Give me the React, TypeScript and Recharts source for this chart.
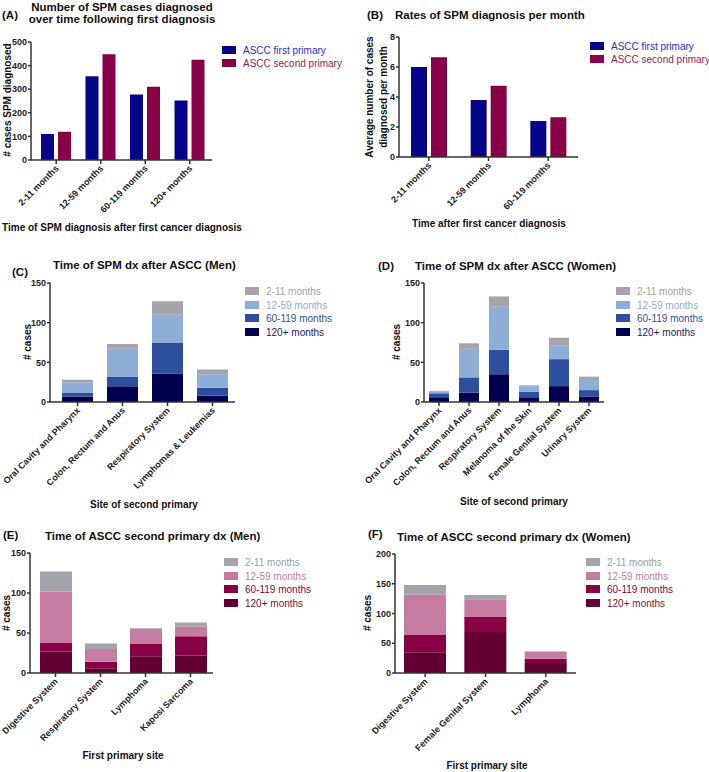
import React from "react"
import { BarChart, Bar, XAxis, YAxis } from "recharts"

// ---- data ----
const TIME_A = ["2-11 months", "12-59 months", "60-119 months", "120+ months"]
const A_FIRST = [110, 355, 278, 252]
const A_SECOND = [120, 448, 310, 425]

const TIME_B = ["2-11 months", "12-59 months", "60-119 months"]
const B_FIRST = [6.0, 3.8, 2.4]
const B_SECOND = [6.65, 4.75, 2.65]

const C_SITES = ["Oral Cavity and Pharynx", "Colon, Rectum and Anus", "Respiratory System", "Lymphomas & Leukemias"]
const C_120 = [7, 20, 36, 8]
const C_60 = [5, 12, 39, 10]
const C_12 = [13, 35, 35, 17]
const C_2 = [3, 6, 17, 6]

const D_SITES = ["Oral Cavity and Pharynx", "Colon, Rectum and Anus", "Respiratory System", "Melanoma of the Skin", "Female Genital System", "Urinary System"]
const D_120 = [6, 12, 35, 6, 20, 7]
const D_60 = [5, 19, 31, 7, 34, 8]
const D_12 = [2, 36, 54, 7, 17, 14]
const D_2 = [1, 7, 13, 1, 10, 3]

const E_SITES = ["Digestive System", "Respiratory System", "Lymphoma", "Kaposi Sarcoma"]
const E_120 = [27, 6, 21, 22]
const E_60 = [11, 8, 16, 24]
const E_12 = [64, 16, 18, 12]
const E_2 = [25, 7, 1, 5]

const F_SITES = ["Digestive System", "Female Genital System", "Lymphoma"]
const F_120 = [35, 69, 17]
const F_60 = [29, 25, 7]
const F_12 = [68, 30, 12]
const F_2 = [16, 7, 0]

const STACK_LABELS = ["2-11 months", "12-59 months", "60-119 months", "120+ months"]
const TICKS_150 = [0, 50, 100, 150]

// ---- colours ----
const BLUE = "#05058a"
const MAROON = "#880045"
const GRAY = "#a4a4aa"
const BLUES = { m120: "#00004f", m60: "#2e4f9e", m12: "#8eaed8", m2: GRAY }
const REDS = { m120: "#650032", m60: "#880045", m12: "#c67ca0", m2: GRAY }
const BLUE_TEXT = ["#a0a0a4", "#8eaed8", "#2e4f9e", "#1a1a66"]
const RED_TEXT = ["#a0a0a4", "#c67ca0", "#880045", "#7a1040"]

const FONT = "'Liberation Sans', Arial, sans-serif"
const AXIS = "#333"

const grouped = (cats: string[], a: number[], b: number[]) =>
    cats.map((name, i) => ({ name, first: a[i], second: b[i] }))

const stacked = (cats: string[], s120: number[], s60: number[], s12: number[], s2: number[]) =>
    cats.map((name, i) => ({ name, m120: s120[i], m60: s60[i], m12: s12[i], m2: s2[i] }))

const RotTick = (props: any) => {
    const { x, y, payload } = props
    return (
        <g transform={`translate(${x + 3},${y + 3})`}>
            <text x={0} y={0} textAnchor="end" transform="rotate(-45)" fontSize={9} fontWeight={700} fill="#222">
                {payload.value}
            </text>
        </g>
    )
}

const Txt = ({ x, y, children, size = 10, bold = false, color = "#111", center = false }: any) => (
    <div style={{
        position: "absolute", left: x, top: y, transform: center ? "translate(-50%,-50%)" : "translate(0,-50%)",
        fontSize: size, fontWeight: bold ? 700 : 400, color, whiteSpace: "nowrap", lineHeight: 1.1
    }}>{children}</div>
)

const VTxt = ({ x, y, children, size = 10 }: any) => (
    <div style={{
        position: "absolute", left: x, top: y, transform: "translate(-50%,-50%) rotate(-90deg)",
        fontSize: size, fontWeight: 700, color: "#111", whiteSpace: "nowrap", textAlign: "center", lineHeight: "14px"
    }}>{children}</div>
)

const Legend = ({ x, y, step, items }: { x: number, y: number, step: number, items: { label: string, color: string, text: string }[] }) => (
    <>
        {items.map((it, i) => (
            <React.Fragment key={it.label}>
                <div style={{ position: "absolute", left: x, top: y + i * step - 4, width: 14, height: 8, background: it.color }} />
                <Txt x={x + 21} y={y + i * step} color={it.text}>{it.label}</Txt>
            </React.Fragment>
        ))}
    </>
)

const PAD_L = 100
const PAD_B = 100

function Panel({ x0, x1, y0, y1, data, max, ticks, padL = 0, children }: any) {
    const w = x1 - x0
    const h = y1 - y0
    return (
        <div style={{ position: "absolute", left: x0 - PAD_L, top: y0 - 10 }}>
            <BarChart width={w + PAD_L + 10} height={h + 10 + PAD_B} data={data}
                margin={{ top: 10, right: 10, left: 0, bottom: 0 }} barCategoryGap="10%">
                <XAxis dataKey="name" height={PAD_B} interval={0} tick={<RotTick />} padding={{ left: padL, right: 0 }}
                    axisLine={{ stroke: AXIS, strokeWidth: 1.5 }} tickLine={{ stroke: AXIS, strokeWidth: 1.5 }} tickSize={4} />
                <YAxis width={PAD_L} domain={[0, max]} ticks={ticks} interval={0} allowDataOverflow
                    axisLine={{ stroke: AXIS, strokeWidth: 1.5 }} tickLine={{ stroke: AXIS, strokeWidth: 1.5 }}
                    tickSize={3} tickMargin={1} tick={{ fontSize: 9, fontWeight: 700, fill: "#222" }} />
                {children}
            </BarChart>
        </div>
    )
}

const stackBars = (pal: any, size: number) => ["m120", "m60", "m12", "m2"].map(k => (
    <Bar key={k} dataKey={k} stackId="s" fill={pal[k]} barSize={size} isAnimationActive={false} />
))

const blueLegend = STACK_LABELS.map((label, i) => ({ label, color: [BLUES.m2, BLUES.m12, BLUES.m60, BLUES.m120][i], text: BLUE_TEXT[i] }))
const redLegend = STACK_LABELS.map((label, i) => ({ label, color: [REDS.m2, REDS.m12, REDS.m60, REDS.m120][i], text: RED_TEXT[i] }))
const pairLegend = [
    { label: "ASCC first primary", color: BLUE, text: "#2b2bd8" },
    { label: "ASCC second primary", color: MAROON, text: "#9a1a52" },
]

export default function App() {
    return (
        <div style={{ position: "absolute", left: 0, top: 0, width: 709, height: 772, background: "#fff", fontFamily: FONT, overflow: "hidden" }}>
            {/* (A) */}
            <Txt x={2} y={15} size={11.5} bold>(A)</Txt>
            <Txt x={122} y={7} size={11.5} bold center>Number of SPM cases diagnosed</Txt>
            <Txt x={122} y={19} size={11.5} bold center>over time following first diagnosis</Txt>
            <Panel x0={31} x1={212} y0={42} y1={160} data={grouped(TIME_A, A_FIRST, A_SECOND)} max={500} ticks={[0, 100, 200, 300, 400, 500]} padL={3}>
                <Bar dataKey="first" fill={BLUE} barSize={13} isAnimationActive={false} />
                <Bar dataKey="second" fill={MAROON} barSize={13} isAnimationActive={false} />
            </Panel>
            <VTxt x={8} y={100}># cases SPM diagnosed</VTxt>
            <Txt x={122} y={227} bold center>Time of SPM diagnosis after first cancer diagnosis</Txt>
            <Legend x={222} y={50} step={13} items={pairLegend} />

            {/* (B) */}
            <Txt x={367} y={15} size={11.5} bold>(B)</Txt>
            <Txt x={395} y={15} size={11.5} bold>Rates of SPM diagnosis per month</Txt>
            <Panel x0={399} x1={578} y0={37} y1={157} data={grouped(TIME_B, B_FIRST, B_SECOND)} max={8} ticks={[0, 2, 4, 6, 8]}>
                <Bar dataKey="first" fill={BLUE} barSize={16} isAnimationActive={false} />
                <Bar dataKey="second" fill={MAROON} barSize={16} isAnimationActive={false} />
            </Panel>
            <VTxt x={377} y={97}>Average number of cases<br />diagnosed per month</VTxt>
            <Txt x={489} y={223} bold center>Time after first cancer diagnosis</Txt>
            <Legend x={590} y={46} step={13} items={pairLegend} />

            {/* (C) */}
            <Txt x={12} y={272} size={11.5} bold>(C)</Txt>
            <Txt x={53} y={265} size={11.5} bold>Time of SPM dx after ASCC (Men)</Txt>
            <Panel x0={50} x1={235} y0={283} y1={402} data={stacked(C_SITES, C_120, C_60, C_12, C_2)} max={150} ticks={TICKS_150} padL={5}>
                {stackBars(BLUES, 31)}
            </Panel>
            <VTxt x={28} y={342}># cases</VTxt>
            <Txt x={144} y={504} bold center>Site of second primary</Txt>
            <Legend x={245} y={291} step={13.7} items={blueLegend} />

            {/* (D) */}
            <Txt x={378} y={266} size={11.5} bold>(D)</Txt>
            <Txt x={415} y={266} size={11.5} bold>Time of SPM dx after ASCC (Women)</Txt>
            <Panel x0={424} x1={604} y0={283} y1={402} data={stacked(D_SITES, D_120, D_60, D_12, D_2)} max={150} ticks={TICKS_150}>
                {stackBars(BLUES, 20)}
            </Panel>
            <VTxt x={397} y={342}># cases</VTxt>
            <Txt x={514} y={501} bold center>Site of second primary</Txt>
            <Legend x={616} y={291} step={13.7} items={blueLegend} />

            {/* (E) */}
            <Txt x={3} y={535} size={11.5} bold>(E)</Txt>
            <Txt x={45} y={536} size={11.5} bold>Time of ASCC second primary dx (Men)</Txt>
            <Panel x0={30} x1={213} y0={553} y1={673} data={stacked(E_SITES, E_120, E_60, E_12, E_2)} max={150} ticks={TICKS_150} padL={3}>
                {stackBars(REDS, 32)}
            </Panel>
            <VTxt x={7} y={613}># cases</VTxt>
            <Txt x={123} y={755} bold center>First primary site</Txt>
            <Legend x={224} y={562} step={13.5} items={redLegend} />

            {/* (F) */}
            <Txt x={368} y={534} size={11.5} bold>(F)</Txt>
            <Txt x={397} y={537} size={11.5} bold>Time of ASCC second primary dx (Women)</Txt>
            <Panel x0={395} x1={576} y0={554} y1={673} data={stacked(F_SITES, F_120, F_60, F_12, F_2)} max={200} ticks={[0, 50, 100, 150, 200]}>
                {stackBars(REDS, 42)}
            </Panel>
            <VTxt x={368} y={613}># cases</VTxt>
            <Txt x={487} y={765} bold center>First primary site</Txt>
            <Legend x={586} y={562} step={13.5} items={redLegend} />
        </div>
    )
}
